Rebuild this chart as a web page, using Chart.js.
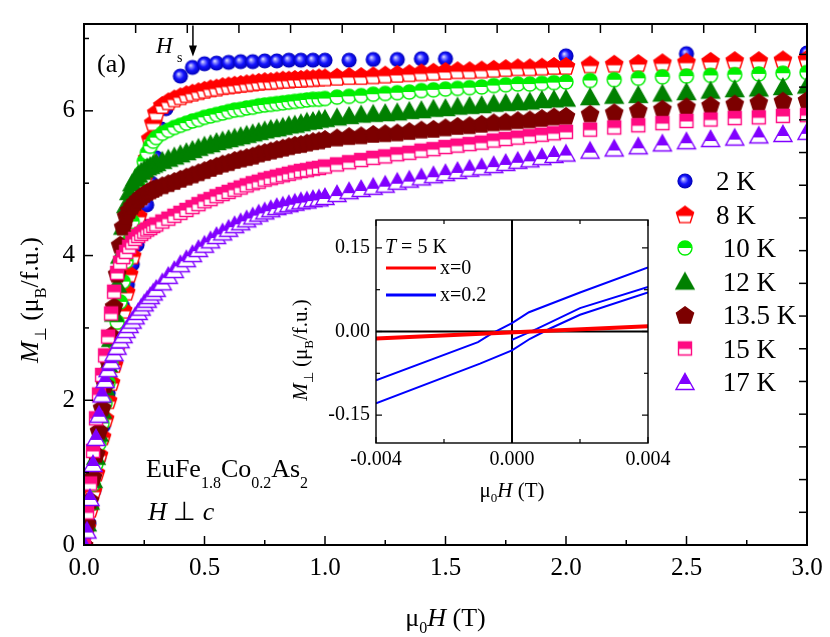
<!DOCTYPE html>
<html>
<head>
<meta charset="utf-8">
<script src="https://cdn.jsdelivr.net/npm/chart.js@4.4.0/dist/chart.umd.min.js"></script>
<style>
  html, body { margin: 0; padding: 0; background: #fff; }
  #wrap { position: relative; width: 830px; height: 637px; }
  #mainChart { position: absolute; left: 0; top: 0; }
  #insetChart { position: absolute; left: 290px; top: 205px; }
</style>
</head>
<body>
<div id="wrap">
  <canvas id="mainChart" width="830" height="637"></canvas>
  <canvas id="insetChart" width="400" height="305"></canvas>
</div>
<script>
// field grid (T) shared by the 8 K ... 17 K sweeps
const H_FIELD = [
  0, 0.0125, 0.025, 0.0375, 0.05, 0.0625, 0.075, 0.0875, 0.1, 0.1125, 0.125, 0.1375, 0.15,
  0.1625, 0.175, 0.1875, 0.2, 0.2125, 0.225, 0.2375, 0.25, 0.2625, 0.275, 0.2875, 0.3,
  0.325, 0.35, 0.375, 0.4, 0.425, 0.45, 0.475, 0.5, 0.525, 0.55, 0.575, 0.6, 0.625, 0.65,
  0.675, 0.7, 0.725, 0.75, 0.775, 0.8, 0.825, 0.85, 0.875, 0.9, 0.925, 0.95, 0.975, 1.0,
  1.05, 1.1, 1.15, 1.2, 1.25, 1.3, 1.35, 1.4, 1.45, 1.5, 1.55, 1.6, 1.65, 1.7, 1.75, 1.8,
  1.85, 1.9, 1.95, 2.0,
  2.1, 2.2, 2.3, 2.4, 2.5, 2.6, 2.7, 2.8, 2.9, 3.0
];

const M_8K = [
  0, 0.25, 0.5, 0.75, 1.0, 1.25, 1.5, 1.75, 2.0, 2.25, 2.5, 2.75, 3.0,
  3.25, 3.5, 3.75, 4.0, 4.27, 4.55, 4.82, 5.08, 5.35, 5.62, 5.84, 5.98,
  6.08, 6.13, 6.17, 6.2, 6.23, 6.25, 6.27, 6.29, 6.31, 6.32, 6.34, 6.35, 6.36, 6.37,
  6.38, 6.39, 6.4, 6.41, 6.41, 6.42, 6.43, 6.43, 6.44, 6.44, 6.45, 6.45, 6.46, 6.46,
  6.47, 6.48, 6.48, 6.49, 6.5, 6.51, 6.52, 6.53, 6.54, 6.55, 6.56, 6.56, 6.57, 6.58, 6.59, 6.6,
  6.6, 6.61, 6.62, 6.62,
  6.64, 6.65, 6.66, 6.67, 6.68, 6.69, 6.7, 6.7, 6.71, 6.72
];

const M_10K = [
  0, 0.28, 0.56, 0.84, 1.12, 1.4, 1.68, 1.96, 2.24, 2.52, 2.8, 3.08, 3.36,
  3.64, 3.92, 4.2, 4.47, 4.72, 4.95, 5.14, 5.3, 5.42, 5.51, 5.58, 5.63,
  5.69, 5.73, 5.77, 5.8, 5.83, 5.86, 5.88, 5.91, 5.93, 5.95, 5.97, 5.99, 6.01, 6.02,
  6.04, 6.05, 6.07, 6.08, 6.09, 6.1, 6.11, 6.12, 6.13, 6.14, 6.15, 6.16, 6.16, 6.17,
  6.19, 6.2, 6.21, 6.23, 6.24, 6.25, 6.26, 6.28, 6.29, 6.3, 6.31, 6.32, 6.33, 6.35, 6.36, 6.37,
  6.37, 6.38, 6.39, 6.4,
  6.42, 6.43, 6.45, 6.47, 6.48, 6.49, 6.5, 6.51, 6.52, 6.53
];

const M_12K = [
  0, 0.3, 0.6, 0.9, 1.22, 1.54, 1.86, 2.18, 2.5, 2.85, 3.2, 3.6, 4.0,
  4.4, 4.7, 4.88, 5.0, 5.07, 5.12, 5.16, 5.19, 5.22, 5.24, 5.26, 5.28,
  5.31, 5.34, 5.37, 5.4, 5.43, 5.46, 5.49, 5.52, 5.54, 5.57, 5.59, 5.61, 5.63, 5.65,
  5.67, 5.69, 5.71, 5.73, 5.75, 5.76, 5.78, 5.8, 5.81, 5.83, 5.85, 5.86, 5.88, 5.89,
  5.91, 5.93, 5.95, 5.96, 5.97, 5.98, 6.0, 6.01, 6.03, 6.04, 6.06, 6.07, 6.08, 6.1, 6.11, 6.12,
  6.13, 6.15, 6.16, 6.17,
  6.19, 6.21, 6.22, 6.24, 6.26, 6.28, 6.3, 6.31, 6.33, 6.35
];

const M_13_5K = [
  0, 0.3, 0.62, 0.94, 1.26, 1.58, 1.9, 2.22, 2.55, 2.9, 3.3, 3.75, 4.15,
  4.4, 4.55, 4.63, 4.69, 4.74, 4.78, 4.82, 4.85, 4.88, 4.9, 4.92, 4.94,
  4.97, 5.0, 5.03, 5.06, 5.09, 5.12, 5.15, 5.18, 5.21, 5.24, 5.27, 5.29, 5.32, 5.34,
  5.36, 5.38, 5.41, 5.43, 5.45, 5.47, 5.49, 5.51, 5.53, 5.54, 5.56, 5.58, 5.59, 5.61,
  5.63, 5.65, 5.66, 5.68, 5.69, 5.7, 5.72, 5.74, 5.75, 5.77, 5.79, 5.8, 5.82, 5.84, 5.85, 5.87,
  5.88, 5.9, 5.92, 5.93,
  5.96, 5.98, 6.01, 6.03, 6.06, 6.08, 6.1, 6.12, 6.14, 6.15
];

const M_15K = [
  0, 0.45, 0.85, 1.3, 1.75, 2.08, 2.35, 2.62, 2.88, 3.2, 3.5, 3.76, 3.9,
  3.98, 4.05, 4.12, 4.18, 4.23, 4.27, 4.3, 4.33, 4.36, 4.38, 4.41, 4.43,
  4.47, 4.51, 4.55, 4.59, 4.63, 4.67, 4.71, 4.75, 4.78, 4.82, 4.85, 4.88, 4.91, 4.94,
  4.97, 5.0, 5.02, 5.05, 5.07, 5.09, 5.11, 5.13, 5.15, 5.17, 5.18, 5.2, 5.21, 5.23,
  5.26, 5.29, 5.32, 5.35, 5.37, 5.4, 5.42, 5.45, 5.47, 5.5, 5.52, 5.54, 5.56, 5.59, 5.61, 5.63,
  5.65, 5.67, 5.69, 5.71,
  5.74, 5.77, 5.8, 5.83, 5.86, 5.88, 5.9, 5.91, 5.93, 5.94
];

const M_17K = [
  0, 0.2, 0.65, 1.12, 1.48, 1.8, 2.08, 2.28, 2.43, 2.54, 2.65, 2.74, 2.83,
  2.9, 2.97, 3.04, 3.1, 3.16, 3.22, 3.28, 3.34, 3.39, 3.44, 3.49, 3.54,
  3.63, 3.72, 3.8, 3.88, 3.95, 4.02, 4.09, 4.15, 4.21, 4.27, 4.32, 4.37, 4.42, 4.46,
  4.5, 4.54, 4.58, 4.61, 4.64, 4.67, 4.69, 4.71, 4.73, 4.75, 4.76, 4.78, 4.79, 4.81,
  4.85, 4.89, 4.92, 4.95, 4.98, 5.02, 5.05, 5.08, 5.11, 5.14, 5.17, 5.2, 5.22, 5.25, 5.28, 5.31,
  5.33, 5.36, 5.39, 5.41,
  5.45, 5.48, 5.51, 5.55, 5.58, 5.61, 5.63, 5.66, 5.68, 5.71
];

// the 2 K sweep was taken on its own field grid
const H_2K = [
  0, 0.02, 0.04, 0.06, 0.08, 0.1, 0.12, 0.14, 0.16, 0.18, 0.2, 0.22, 0.24, 0.26, 0.28, 0.3, 0.32, 0.34,
  0.4, 0.45, 0.5, 0.55, 0.6, 0.65, 0.7, 0.75, 0.8, 0.85, 0.9, 0.95, 1.0,
  1.1, 1.2, 1.3, 1.4, 1.5, 2.0, 2.5, 3.0
];
const M_2K = [
  0, 0.3, 0.75, 1.2, 1.65, 2.1, 2.55, 2.95, 3.3, 3.6, 3.88, 4.15, 4.42, 4.7, 5.0, 5.35, 5.75, 6.03,
  6.48, 6.6, 6.65, 6.66, 6.67, 6.68, 6.68, 6.69, 6.69, 6.7, 6.7, 6.7, 6.7,
  6.7, 6.71, 6.71, 6.72, 6.72, 6.76, 6.79, 6.8
];

const SERIES_LABELS = ['2 K', '8 K', ' 10 K', ' 12 K', ' 13.5 K', ' 15 K', ' 17 K'];

const X_TICKS = [0, 0.5, 1, 1.5, 2, 2.5, 3];
const X_MINOR = [0.25, 0.75, 1.25, 1.75, 2.25, 2.75];
const Y_TICKS = [0, 2, 4, 6];
const Y_MINOR = [1, 3, 5, 7];
const TOP_TICKS = [0, 1, 2, 3, 4, 5, 6, 7, 8, 9, 10, 11, 12, 13, 14];
const RIGHT_TICKS = [0, 1, 2, 3, 4, 5, 6, 7, 8, 9, 10, 11, 12, 13, 14, 15];

// inset: T = 5 K loops near zero field
const INSET_H_X0_A = [-0.004, 0.004];
const INSET_M_X0_A = [-0.0115, 0.0105];
const INSET_H_X0_B = [-0.004, 0.004];
const INSET_M_X0_B = [-0.0135, 0.0085];
const INSET_H_DOWN = [0.004, 0.002, 0.0005, 0.0, -0.0006, -0.001, -0.004];
const INSET_M_DOWN = [0.115, 0.07, 0.0345, 0.015, -0.004, -0.019, -0.0875];
const INSET_H_UP = [-0.004, -0.00094, 0.0, 0.00053, 0.00112, 0.002, 0.004];
const INSET_M_UP = [-0.129, -0.0577, -0.034, -0.013, 0.0054, 0.03, 0.07];
const INSET_H_VIRGIN = [0.0, 0.00073, 0.002, 0.004];
const INSET_M_VIRGIN = [-0.015, 0.0048, 0.042, 0.08];

const INSET_X_TICKS = [-0.004, 0, 0.004];
const INSET_X_MINOR = [-0.002, 0.002];
const INSET_Y_TICKS = [-0.15, 0, 0.15];
const INSET_Y_MINOR = [-0.075, 0.075];

const FONT = '"Liberation Serif", "Times New Roman", serif';
Chart.defaults.font.family = FONT;
Chart.defaults.color = '#000';

function markerPath(shape) {
  const p = new Path2D();
  if (shape === 'circle') {
    p.arc(0, 0, 7, 0, 2 * Math.PI);
  } else if (shape === 'square') {
    p.rect(-6.5, -6.5, 13, 13);
  } else if (shape === 'triangle') {
    p.moveTo(0, -8.5); p.lineTo(9, 7.5); p.lineTo(-9, 7.5); p.closePath();
  } else if (shape === 'pentagon') {
    for (let k = 0; k < 5; k++) {
      const a = -Math.PI / 2 + k * 2 * Math.PI / 5;
      const px = 9 * Math.cos(a), py = 9 * Math.sin(a) + 0.8;
      if (k) p.lineTo(px, py); else p.moveTo(px, py);
    }
    p.closePath();
  }
  return p;
}

// small bitmaps used as point styles
function makeMarker(shape, color, fillTo) {
  const c = document.createElement('canvas');
  c.width = 22; c.height = 22;
  const ctx = c.getContext('2d');
  ctx.translate(11, 11);
  if (shape === 'sphere') {
    const g = ctx.createRadialGradient(-2, -2.2, 0, 0, 0, 7.6);
    g.addColorStop(0, '#f0f0ff');
    g.addColorStop(0.22, '#8c8cff');
    g.addColorStop(0.55, '#1414ff');
    g.addColorStop(1, '#0000b4');
    ctx.fillStyle = g;
    ctx.beginPath(); ctx.arc(0, 0, 7.6, 0, 2 * Math.PI); ctx.fill();
    return c;
  }
  const p = markerPath(shape);
  if (fillTo === undefined) {
    ctx.fillStyle = color; ctx.fill(p);
  } else {
    ctx.fillStyle = '#fff'; ctx.fill(p);
    ctx.save(); ctx.clip(p);
    ctx.fillStyle = color; ctx.fillRect(-11, -11, 22, 11 + fillTo);
    ctx.restore();
  }
  ctx.strokeStyle = color; ctx.lineWidth = 1.4; ctx.stroke(p);
  return c;
}

function fontFor(style, size) {
  const s = style.includes('s') ? Math.round(size * 0.62) : size;
  return (style.includes('i') ? 'italic ' : '') + s + 'px ' + FONT;
}

function drawRich(ctx, runs, x, y, size, align, subOff) {
  const off = subOff === undefined ? 0.3 : subOff;
  let w = 0;
  runs.forEach(r => { ctx.font = fontFor(r[1], size); w += ctx.measureText(r[0]).width; });
  let cx = align === 'center' ? x - w / 2 : x;
  ctx.textAlign = 'left';
  ctx.textBaseline = 'alphabetic';
  runs.forEach(r => {
    ctx.font = fontFor(r[1], size);
    ctx.fillText(r[0], cx, y + (r[1].includes('s') ? size * off : 0));
    cx += ctx.measureText(r[0]).width;
  });
}

function tickMarks(ctx, scale, values, len, side, area) {
  values.forEach(v => {
    const p = scale.getPixelForValue(v);
    ctx.beginPath();
    if (side === 'bottom') { ctx.moveTo(p, area.bottom); ctx.lineTo(p, area.bottom - len); }
    else if (side === 'top') { ctx.moveTo(p, area.top); ctx.lineTo(p, area.top + len); }
    else if (side === 'left') { ctx.moveTo(area.left, p); ctx.lineTo(area.left + len, p); }
    else { ctx.moveTo(area.right, p); ctx.lineTo(area.right - len, p); }
    ctx.stroke();
  });
}

function noPad(scale) {
  scale.paddingLeft = 0; scale.paddingRight = 0;
  scale.paddingTop = 0; scale.paddingBottom = 0;
}

const seriesDefs = [
  { h: H_2K, m: M_2K, marker: makeMarker('sphere', '#0000ff') },
  { h: H_FIELD, m: M_8K, marker: makeMarker('pentagon', '#ff0000', 1.5) },
  { h: H_FIELD, m: M_10K, marker: makeMarker('circle', '#00ee00', 0) },
  { h: H_FIELD, m: M_12K, marker: makeMarker('triangle', '#008000') },
  { h: H_FIELD, m: M_13_5K, marker: makeMarker('pentagon', '#7c0000') },
  { h: H_FIELD, m: M_15K, marker: makeMarker('square', '#ff0a82', 0.5) },
  { h: H_FIELD, m: M_17K, marker: makeMarker('triangle', '#8000ff', 2) }
];

const mainDecor = {
  id: 'mainDecor',
  afterDraw(chart) {
    const ctx = chart.ctx;
    const a = chart.chartArea;
    const sx = chart.scales.x, sy = chart.scales.y;
    ctx.save();
    ctx.strokeStyle = '#000';
    ctx.lineWidth = 1.5;
    tickMarks(ctx, sx, X_TICKS, 9, 'bottom', a);
    tickMarks(ctx, sx, X_MINOR, 5, 'bottom', a);
    tickMarks(ctx, sy, Y_TICKS, 9, 'left', a);
    tickMarks(ctx, sy, Y_MINOR, 5, 'left', a);
    tickMarks(ctx, chart.scales.xTop, TOP_TICKS, 9, 'top', a);
    tickMarks(ctx, chart.scales.yRight, RIGHT_TICKS, 8, 'right', a);
    ctx.lineWidth = 2;
    ctx.strokeRect(a.left, a.top, a.right - a.left, a.bottom - a.top);

    ctx.fillStyle = '#000';
    // axis titles
    drawRich(ctx, [['\u03bc', ''], ['0', 's'], ['H', 'i'], [' (T)', '']],
      (a.left + a.right) / 2, 626, 26, 'center', 0.25);
    ctx.save();
    ctx.translate(38, 300);
    ctx.rotate(-Math.PI / 2);
    drawRich(ctx, [['M', 'i'], ['\u22a5', 's'], [' (\u03bc', ''], ['B', 's'], ['/f.u.)', '']], 0, 0, 26, 'center');
    ctx.restore();

    // panel notes
    ctx.font = '26px ' + FONT;
    ctx.fillText('(a)', a.left + 13, a.top + 48);
    drawRich(ctx, [['EuFe', ''], ['1.8', 's'], ['Co', ''], ['0.2', 's'], ['As', ''], ['2', 's']],
      a.left + 62, 477, 26, 'left', 0.42);
    drawRich(ctx, [['H', 'i'], [' \u22a5 ', ''], ['c', 'i']], a.left + 64, 520, 26, 'left');

    // H_s arrow
    const ax = sx.getPixelForValue(0.452);
    const yTop = sy.getPixelForValue(7.18), yTip = sy.getPixelForValue(6.75);
    ctx.lineWidth = 1.5;
    ctx.beginPath(); ctx.moveTo(ax, yTop); ctx.lineTo(ax, yTip - 8); ctx.stroke();
    ctx.beginPath(); ctx.moveTo(ax - 4, yTip - 11); ctx.lineTo(ax + 4, yTip - 11); ctx.lineTo(ax, yTip); ctx.closePath(); ctx.fill();
    ctx.font = 'italic 23px ' + FONT;
    ctx.fillText('H', ax - 37, yTip - 4);
    ctx.font = '14px ' + FONT;
    ctx.fillText('s', ax - 16, yTip + 5);

    // legend
    const lx = a.right - 122, ly = a.top + 157;
    chart.data.datasets.forEach((ds, i) => {
      const y = ly + i * 33.5;
      const img = ds.pointStyle;
      ctx.drawImage(img, lx - img.width / 2, y - img.height / 2);
      ctx.font = '27px ' + FONT;
      ctx.textBaseline = 'alphabetic';
      ctx.fillText(ds.label, lx + 31, y + 9);
    });
    ctx.restore();
  }
};

new Chart(document.getElementById('mainChart'), {
  type: 'scatter',
  data: {
    datasets: seriesDefs.map((s, i) => ({
      label: SERIES_LABELS[i],
      data: s.h.map((h, k) => ({ x: h, y: s.m[k] })),
      pointStyle: s.marker,
      pointRadius: 8,
      pointHoverRadius: 8,
      showLine: false,
      order: seriesDefs.length - i
    }))
  },
  options: {
    responsive: false,
    animation: false,
    events: [],
    layout: { padding: { left: 0, right: 23, top: 24, bottom: 0 } },
    plugins: { legend: { display: false }, tooltip: { enabled: false } },
    scales: {
      x: {
        type: 'linear', position: 'bottom', min: 0, max: 3,
        afterBuildTicks: s => { s.ticks = X_TICKS.map(v => ({ value: v })); },
        ticks: { font: { size: 25 }, color: '#000', padding: 8, callback: v => v.toFixed(1), maxRotation: 0 },
        grid: { display: false, drawTicks: false },
        border: { display: false },
        afterFit: s => { s.height = 92; noPad(s); }
      },
      y: {
        type: 'linear', position: 'left', min: 0, max: 7.2,
        afterBuildTicks: s => { s.ticks = Y_TICKS.map(v => ({ value: v })); },
        ticks: { font: { size: 25 }, color: '#000', padding: 9, callback: v => String(v) },
        grid: { display: false, drawTicks: false },
        border: { display: false },
        afterFit: s => { s.width = 84; noPad(s); }
      },
      xTop: {
        type: 'linear', position: 'top', min: 0, max: 14,
        afterBuildTicks: s => { s.ticks = TOP_TICKS.map(v => ({ value: v })); },
        ticks: { display: false },
        grid: { display: false, drawTicks: false },
        border: { display: false },
        afterFit: s => { s.height = 0; noPad(s); }
      },
      yRight: {
        type: 'linear', position: 'right', min: 0, max: 15.93,
        afterBuildTicks: s => { s.ticks = RIGHT_TICKS.map(v => ({ value: v })); },
        ticks: { display: false },
        grid: { display: false, drawTicks: false },
        border: { display: false },
        afterFit: s => { s.width = 0; noPad(s); }
      }
    }
  },
  plugins: [mainDecor]
});

const insetDecor = {
  id: 'insetDecor',
  beforeDatasetsDraw(chart) {
    const ctx = chart.ctx;
    const a = chart.chartArea;
    ctx.save();
    ctx.fillStyle = '#fff';
    ctx.fillRect(a.left, a.top, a.right - a.left, a.bottom - a.top);
    const x0 = chart.scales.x.getPixelForValue(0);
    const y0 = chart.scales.y.getPixelForValue(0);
    ctx.strokeStyle = '#000';
    ctx.lineWidth = 2;
    ctx.beginPath();
    ctx.moveTo(x0, a.top); ctx.lineTo(x0, a.bottom);
    ctx.moveTo(a.left, y0); ctx.lineTo(a.right, y0);
    ctx.stroke();
    ctx.restore();
  },
  afterDraw(chart) {
    const ctx = chart.ctx;
    const a = chart.chartArea;
    const sx = chart.scales.x, sy = chart.scales.y;
    ctx.save();
    ctx.strokeStyle = '#000';
    ctx.lineWidth = 1.2;
    ['bottom', 'top'].forEach(side => {
      tickMarks(ctx, sx, INSET_X_TICKS, 6, side, a);
      tickMarks(ctx, sx, INSET_X_MINOR, 4, side, a);
    });
    ['left', 'right'].forEach(side => {
      tickMarks(ctx, sy, INSET_Y_TICKS, 6, side, a);
      tickMarks(ctx, sy, INSET_Y_MINOR, 4, side, a);
    });
    ctx.lineWidth = 1.4;
    ctx.strokeRect(a.left, a.top, a.right - a.left, a.bottom - a.top);

    ctx.fillStyle = '#000';
    drawRich(ctx, [['\u03bc', ''], ['0', 's'], ['H', 'i'], [' (T)', '']],
      (a.left + a.right) / 2, 292, 21, 'center', 0.25);
    ctx.save();
    ctx.translate(17, 145);
    ctx.rotate(-Math.PI / 2);
    drawRich(ctx, [['M', 'i'], ['\u22a5', 's'], [' (\u03bc', ''], ['B', 's'], ['/f.u.)', '']], 0, 0, 21, 'center');
    ctx.restore();

    // inset legend
    drawRich(ctx, [['T', 'i'], [' = 5 K', '']], a.left + 9, a.top + 33, 20, 'left');
    [['#ff0000', 'x=0', 48], ['#0000ff', 'x=0.2', 75]].forEach(e => {
      ctx.strokeStyle = e[0];
      ctx.lineWidth = 3;
      ctx.beginPath();
      ctx.moveTo(a.left + 10, a.top + e[2]); ctx.lineTo(a.left + 60, a.top + e[2]);
      ctx.stroke();
      ctx.font = '20px ' + FONT;
      ctx.textBaseline = 'middle';
      ctx.fillText(e[1], a.left + 64, a.top + e[2] + 1);
    });
    ctx.restore();
  }
};

function lineSet(h, m, color, width) {
  return {
    data: h.map((v, k) => ({ x: v, y: m[k] })),
    showLine: true, borderColor: color, borderWidth: width,
    pointRadius: 0, tension: 0, fill: false
  };
}

new Chart(document.getElementById('insetChart'), {
  type: 'scatter',
  data: {
    datasets: [
      lineSet(INSET_H_X0_A, INSET_M_X0_A, '#ff0000', 3),
      lineSet(INSET_H_X0_B, INSET_M_X0_B, '#ff0000', 3),
      lineSet(INSET_H_DOWN, INSET_M_DOWN, '#0000ff', 2),
      lineSet(INSET_H_UP, INSET_M_UP, '#0000ff', 2),
      lineSet(INSET_H_VIRGIN, INSET_M_VIRGIN, '#0000ff', 2)
    ]
  },
  options: {
    responsive: false,
    animation: false,
    events: [],
    layout: { padding: { left: 0, right: 42, top: 15, bottom: 0 } },
    plugins: { legend: { display: false }, tooltip: { enabled: false } },
    scales: {
      x: {
        type: 'linear', position: 'bottom', min: -0.004, max: 0.004,
        afterBuildTicks: s => { s.ticks = INSET_X_TICKS.map(v => ({ value: v })); },
        ticks: { font: { size: 20 }, color: '#000', padding: 5, callback: v => v.toFixed(3), maxRotation: 0 },
        grid: { display: false, drawTicks: false },
        border: { display: false },
        afterFit: s => { s.height = 67; noPad(s); }
      },
      y: {
        type: 'linear', position: 'left', min: -0.2, max: 0.2,
        afterBuildTicks: s => { s.ticks = INSET_Y_TICKS.map(v => ({ value: v })); },
        ticks: { font: { size: 20 }, color: '#000', padding: 6, callback: v => v.toFixed(2) },
        grid: { display: false, drawTicks: false },
        border: { display: false },
        afterFit: s => { s.width = 86; noPad(s); }
      }
    }
  },
  plugins: [insetDecor]
});
</script>
</body>
</html>
